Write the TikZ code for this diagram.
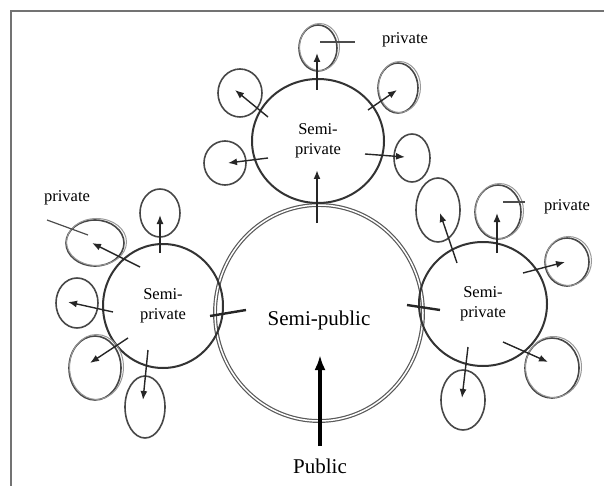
\documentclass[tikz,border=0pt]{standalone}
\usepackage{fontspec}
\setmainfont{Liberation Serif}
\usepackage{tikz}
\usetikzlibrary{shapes.geometric, arrows.meta, positioning}

\tikzset{
  ring/.style={draw=black!80, line width=2pt, ellipse, inner sep=0pt},
  sat/.style={draw=black!72, line width=1.6pt, ellipse, inner sep=0pt},
  arr/.style={draw=black!85, line width=1.4pt, -{Latex[length=9pt,width=7pt]}},
  bigarr/.style={draw=black, line width=3.2pt, -{Latex[length=15pt,width=11pt]}},
  tick/.style={draw=black!85, line width=2.4pt},
  lbl/.style={font=\fontsize{16.5}{20}\selectfont, align=center}
}

\begin{document}
\begin{tikzpicture}[x=1pt, y=-1pt]
    \useasboundingbox (0,0) rectangle (604,486);

    % Frame
    \draw[black!55, line width=1.8pt] (11,486) -- (11,11) -- (604,11);

    % Semi-public
    \node[ring, draw=black!65, double=white, double distance=1.5pt, line width=1.2pt,
          minimum width=208pt, minimum height=216pt] (main) at (319,313) {};
    \node[font=\fontsize{21}{24}\selectfont] (maintxt) at (319,320) {Semi-public};
    \node[font=\fontsize{21}{24}\selectfont] (pub) at (320,466) {Public};
    \coordinate (pubtip) at (320,355);
    \draw[bigarr, shorten <=9pt] (pub.north) -- (pubtip);

    % Semi-private
    \node[ring, lbl, minimum width=132pt, minimum height=124pt] (sptop) at (318,141) {Semi-\\private};
    \node[ring, lbl, minimum width=120pt, minimum height=124pt] (spleft) at (163,306) {Semi-\\private};
    \node[ring, lbl, minimum width=128pt, minimum height=124pt] (spright) at (483,304) {Semi-\\private};

    % Links
    \coordinate (topa) at (317,223);
    \coordinate (topb) at (317,170);
    \draw[arr, line width=2pt] (topa) -- (topb);
    \coordinate (lfa) at (210,316);
    \coordinate (lfb) at (246,310);
    \draw[tick] (lfa) -- (lfb);
    \coordinate (rta) at (407,305);
    \coordinate (rtb) at (440,310);
    \draw[tick] (rta) -- (rtb);

    % Private
    \foreach \n/\cx/\cy/\rx/\ry/\ax/\ay/\bx/\by/\d in {
        t1/318/48/19/23/317/90/317/53/1,
        t2/240/93/22/24/268/117/235/90/0,
        t3/225/163/21/22/268/158/228/163/0,
        t4/398/88/20/25/368/110/397/90/1,
        t5/412/158/18/24/365/154/405/157/0,
        l1/160/213/20/24/160/253/160/215/0,
        l2/95/243/29/23/140/267/92/243/1,
        l3/77/303/21/25/113/312/68/302/0,
        l4/95/368/26/32/128/338/90/363/1,
        l5/145/407/20/31/148/350/143/400/0,
        r1/438/210/22/32/457/263/440/213/0,
        r2/498/212/23/27/497/253/497/213/1,
        r3/567/262/22/24/523/273/565/262/1,
        r4/552/368/27/30/503/342/548/362/1,
        r5/463/400/22/30/468/347/462/398/0} {
        \node[sat, minimum width={2*\rx pt}, minimum height={2*\ry pt}] (s\n) at (\cx,\cy) {};
        \ifnum\d=1
            \node[sat, draw=black!40, line width=1pt, minimum width={2*\rx pt+2pt},
                  minimum height={2*\ry pt+1pt}] (d\n) at (\cx+1.5,\cy-1) {};
        \fi
        \coordinate (a\n) at (\ax,\ay);
        \coordinate (b\n) at (\bx,\by);
        \draw[arr] (a\n) -- (b\n);
    }

    % Labels
    \node[lbl] (ptop) at (405,40) {private};
    \node[lbl] (pleft) at (67,198) {private};
    \node[lbl] (pright) at (567,207) {private};
    \coordinate (ptopa) at (320,42);
    \coordinate (ptopb) at (355,42);
    \coordinate (plefta) at (88,235);
    \coordinate (pleftb) at (47,220);
    \coordinate (prighta) at (503,202);
    \coordinate (prightb) at (525,202);
    \draw[black!70, line width=1.2pt] (ptopa) -- (ptopb);
    \draw[black!70, line width=1.2pt] (plefta) -- (pleftb);
    \draw[black!70, line width=1.2pt] (prighta) -- (prightb);
\end{tikzpicture}
\end{document}
